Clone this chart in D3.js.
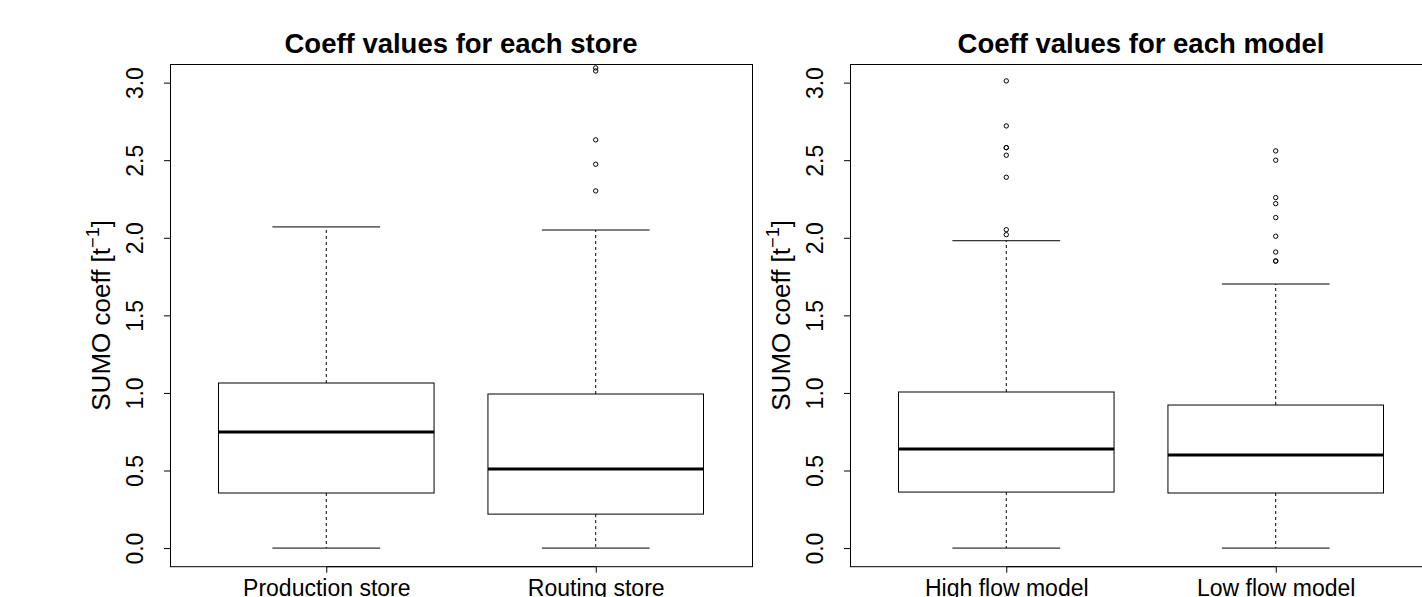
<!DOCTYPE html>
<html>
<head>
<meta charset="utf-8">
<script src="https://cdn.jsdelivr.net/npm/d3@7"></script>
<style>
  html, body { margin: 0; padding: 0; background: #fff; }
  svg { display: block; }
  text { font-family: "Liberation Sans", Arial, Helvetica, sans-serif; fill: #000; }
</style>
</head>
<body>
<svg id="chart" width="1422" height="597"></svg>
<script>
// ---- data: box statistics per group (lower whisker, Q1, median, Q3, upper whisker) ----
const storeCategories = ["Production store", "Routing store"];
const storeLower  = [0.0, 0.0];
const storeQ1     = [0.355, 0.219];
const storeMedian = [0.748, 0.509];
const storeQ3     = [1.064, 0.993];
const storeUpper  = [2.07, 2.05];
const storeOutliers = [[], [2.302, 2.474, 2.631, 3.075, 3.095]];

const modelCategories = ["High flow model", "Low flow model"];
const modelLower  = [0.0, 0.0];
const modelQ1     = [0.361, 0.355];
const modelMedian = [0.638, 0.600];
const modelQ3     = [1.006, 0.922];
const modelUpper  = [1.981, 1.702];
const modelOutliers = [
  [2.02, 2.052, 2.39, 2.532, 2.581, 2.581, 2.721, 3.011],
  [1.85, 1.85, 1.908, 2.01, 2.13, 2.22, 2.259, 2.50, 2.56]
];

const yTickValues = [0, 0.5, 1.0, 1.5, 2.0, 2.5, 3.0];
const yTickLabels = ["0.0", "0.5", "1.0", "1.5", "2.0", "2.5", "3.0"];

const titles = ["Coeff values for each store", "Coeff values for each model"];

// ---- layout ----
const svg = d3.select("#chart");
const panels = [
  { left: 170, title: titles[0], cats: storeCategories, lower: storeLower, q1: storeQ1,
    med: storeMedian, q3: storeQ3, upper: storeUpper, out: storeOutliers },
  { left: 850, title: titles[1], cats: modelCategories, lower: modelLower, q1: modelQ1,
    med: modelMedian, q3: modelQ3, upper: modelUpper, out: modelOutliers }
];
const plotW = 582, plotTop = 64, plotBottom = 566.7;
const axisFont = "23px", labFont = 26, titleFont = "27.5px";

panels.forEach(p => {
  const g = svg.append("g");
  const x = d3.scaleLinear().domain([0.42, 2.58]).range([p.left, p.left + plotW]);
  const y = d3.scaleLinear().domain([-0.12, 3.12]).range([plotBottom, plotTop]);
  const halfBox = 0.4, halfStaple = 0.2;

  // boxes
  p.cats.forEach((c, i) => {
    const cx = x(i + 1);
    const bx0 = x(i + 1 - halfBox), bx1 = x(i + 1 + halfBox);
    const sx0 = x(i + 1 - halfStaple), sx1 = x(i + 1 + halfStaple);
    const bg = g.append("g");
    // whiskers (dashed)
    bg.append("line").attr("x1", cx).attr("x2", cx).attr("y1", y(p.q3[i])).attr("y2", y(p.upper[i]))
      .attr("stroke", "#000").attr("stroke-width", 1).attr("stroke-dasharray", "3,3");
    bg.append("line").attr("x1", cx).attr("x2", cx).attr("y1", y(p.q1[i])).attr("y2", y(p.lower[i]))
      .attr("stroke", "#000").attr("stroke-width", 1).attr("stroke-dasharray", "3,3");
    // staples
    [p.upper[i], p.lower[i]].forEach(v => {
      bg.append("line").attr("x1", sx0).attr("x2", sx1).attr("y1", y(v)).attr("y2", y(v))
        .attr("stroke", "#000").attr("stroke-width", 1);
    });
    // box
    bg.append("rect").attr("x", bx0).attr("y", y(p.q3[i]))
      .attr("width", bx1 - bx0).attr("height", y(p.q1[i]) - y(p.q3[i]))
      .attr("fill", "none").attr("stroke", "#000").attr("stroke-width", 1);
    // median
    bg.append("line").attr("x1", bx0).attr("x2", bx1).attr("y1", y(p.med[i])).attr("y2", y(p.med[i]))
      .attr("stroke", "#000").attr("stroke-width", 3);
    // outliers
    bg.selectAll("circle.out").data(p.out[i]).join("circle").attr("class", "out")
      .attr("cx", cx).attr("cy", d => y(d)).attr("r", 2.2)
      .attr("fill", "none").attr("stroke", "#000").attr("stroke-width", 1);
  });

  // plot frame
  g.append("rect").attr("x", p.left + 0.5).attr("y", plotTop + 0.5)
    .attr("width", plotW).attr("height", plotBottom - plotTop - 0.5)
    .attr("fill", "none").attr("stroke", "#000").attr("stroke-width", 1);

  // y axis
  const yAxis = d3.axisLeft(y).tickValues(yTickValues)
    .tickFormat((d, i) => yTickLabels[i]).tickSize(6).tickPadding(0);
  const ya = g.append("g").attr("transform", `translate(${p.left},0)`).call(yAxis);
  ya.select(".domain").remove();
  ya.selectAll("text").attr("transform", "rotate(-90)").attr("x", 0).attr("y", -27)
    .attr("dy", 0).attr("text-anchor", "middle").style("font-size", axisFont)
    .style("font-family", "Liberation Sans, Arial, sans-serif");
  g.append("line").attr("x1", p.left + 0.5).attr("x2", p.left + 0.5)
    .attr("y1", y(0)).attr("y2", y(3)).attr("stroke", "#000");

  // x axis
  const xAxis = d3.axisBottom(x).tickValues([1, 2])
    .tickFormat((d, i) => p.cats[i]).tickSize(6).tickPadding(0);
  const xa = g.append("g").attr("transform", `translate(0,${plotBottom})`).call(xAxis);
  xa.select(".domain").remove();
  xa.selectAll("text").attr("y", 29.5).attr("dy", 0).style("font-size", axisFont)
    .style("font-family", "Liberation Sans, Arial, sans-serif");
  g.append("line").attr("x1", x(1)).attr("x2", x(2))
    .attr("y1", plotBottom).attr("y2", plotBottom).attr("stroke", "#000");

  // y axis title
  const yt = g.append("text").attr("transform", `translate(${p.left - 60},${(plotTop + plotBottom) / 2}) rotate(-90)`)
    .attr("text-anchor", "middle").style("font-size", labFont + "px");
  yt.append("tspan").text("SUMO coeff [t");
  yt.append("tspan").attr("dy", -labFont * 0.42).style("font-size", (labFont * 0.7) + "px").text("\u22121");
  yt.append("tspan").attr("dy", labFont * 0.42).text("]");

  // title
  g.append("text").attr("x", p.left + plotW / 2).attr("y", 53).attr("text-anchor", "middle")
    .style("font-size", titleFont).style("font-weight", "bold").text(p.title);
});
</script>
</body>
</html>
